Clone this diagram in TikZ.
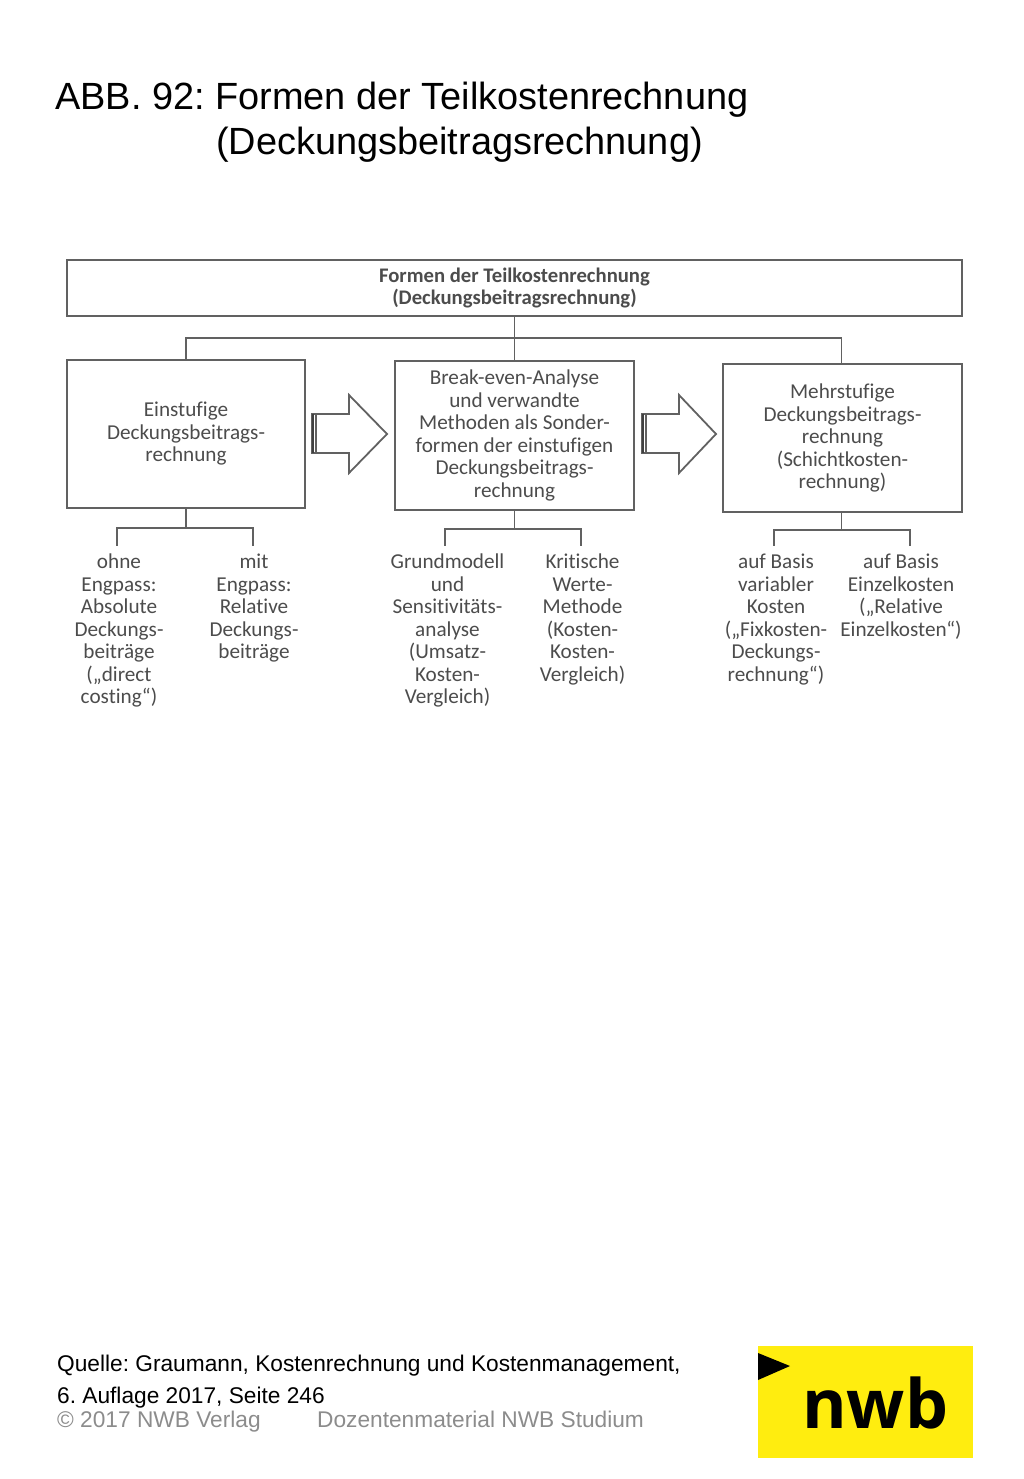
\documentclass[tikz,border=0pt]{standalone}
\usepackage{fontspec}
\setmainfont{Liberation Sans}
\newfontfamily\chartfont[Ligatures=NoCommon]{Carlito}
\newfontfamily\logofont{Open Sans}
\definecolor{linegray}{gray}{0.38}
\definecolor{textgray}{gray}{0.3}
\definecolor{footgray}{gray}{0.55}
\definecolor{nwbyellow}{HTML}{FFED0F}
\tikzset{
  chartbox/.style={draw=linegray,line width=1.8pt,align=center,inner sep=0pt,text=textgray,
    font=\chartfont\fontsize{21.2}{22.5}\selectfont},
  subtext/.style={anchor=north,align=center,inner xsep=0pt,inner ysep=8pt,text=textgray,
    font=\chartfont\fontsize{21.2}{22.5}\selectfont},
  chartline/.style={draw=linegray,line width=1.8pt},
  pagetext/.style={anchor=base west,inner sep=0pt}
}
\frenchspacing
\begin{document}
\begin{tikzpicture}[x=1pt,y=-1pt]
  \useasboundingbox (0,0) rectangle (1024,1479);

  % draw title
  \node[pagetext,font=\fontsize{37.9}{45}\selectfont] (title1) at (55,110) {ABB. 92: Formen der Teilkostenrechnung};
  \node[pagetext,font=\fontsize{37.9}{45}\selectfont] (title2) at (216,155) {(Deckungsbeitragsrechnung)};

  % draw boxes
  \node[chartbox,minimum width=895pt,minimum height=56pt] (top) at (514.5,288)
    {\fontsize{20.7}{22.5}\selectfont\bfseries Formen der Teilkostenrechnung\\\fontsize{20.7}{22.5}\selectfont\bfseries (Deckungsbeitragsrechnung)};
  \node[chartbox,minimum width=238pt,minimum height=148pt] (ein) at (186,434)
    {Einstufige\\Deckungsbeitrags-\\rechnung};
  \node[chartbox,minimum width=239pt,minimum height=149pt] (break) at (514.5,435.5)
    {Break-even-Analyse\\und verwandte\\Methoden als Sonder-\\formen der einstufigen\\Deckungsbeitrags-\\rechnung};
  \node[chartbox,minimum width=239pt,minimum height=148pt] (mehr) at (842.5,438)
    {Mehrstufige\\Deckungsbeitrags-\\rechnung\\(Schichtkosten-\\rechnung)};

  % draw texts below the boxes
  \node[subtext] (ohne) at (119,546) {ohne\\Engpass:\\Absolute\\Deckungs-\\beiträge\\(„direct\\costing“)};
  \node[subtext] (mit) at (254,546) {mit\\Engpass:\\Relative\\Deckungs-\\beiträge};
  \node[subtext] (grund) at (447.5,546) {Grundmodell\\und\\Sensitivitäts-\\analyse\\(Umsatz-\\Kosten-\\Vergleich)};
  \node[subtext] (krit) at (582.5,546) {Kritische\\Werte-\\Methode\\(Kosten-\\Kosten-\\Vergleich)};
  \node[subtext] (variabel) at (776,546) {auf Basis\\variabler\\Kosten\\(„Fixkosten-\\Deckungs-\\rechnung“)};
  \node[subtext] (einzel) at (901,546) {auf Basis\\Einzelkosten\\(„Relative\\Einzelkosten“)};

  % draw connectors
  \draw[chartline] (top) -- (break);
  \draw[chartline] (ein.north) -- ++(0,-21) -| ([xshift=-1pt]mehr.north);
  \draw[chartline] (ein.south) -- ++(0,19) -| ([xshift=-2pt]ohne.north);
  \draw[chartline] (ein.south) -- ++(0,19) -| ([xshift=-1pt]mit.north);
  \draw[chartline] (break.south) -- ++(0,18) -| ([xshift=-2.5pt]grund.north);
  \draw[chartline] (break.south) -- ++(0,18) -| ([xshift=-1.5pt]krit.north);
  \draw[chartline] ([xshift=-1pt]mehr.south) -- ++(0,17) -| ([xshift=-2pt]variabel.north);
  \draw[chartline] ([xshift=-1pt]mehr.south) -- ++(0,17) -| ([xshift=9pt]einzel.north);

  % draw block arrows
  \foreach \x/\t in {312/75,642/74} {
    \draw[chartline,line join=miter] (\x,414) -- (\x+37,414) -- (\x+37,395) -- (\x+\t,434)
      -- (\x+37,473) -- (\x+37,453) -- (\x,453) -- cycle;
    \draw[draw=black!75,line width=2.5pt] (\x+1,414) -- (\x+1,453);
    \draw[draw=linegray,line width=2pt] (\x+4,414) -- (\x+4,453);
  }

  % draw source
  \node[pagetext,font=\fontsize{22.7}{25}\selectfont] (quelle1) at (57,1371) {Quelle: Graumann, Kostenrechnung und Kostenmanagement,};
  \node[pagetext,font=\fontsize{22.7}{25}\selectfont] (quelle2) at (57,1403) {6. Auflage 2017, Seite 246};
  \node[pagetext,text=footgray,font=\fontsize{22.7}{25}\selectfont] (verlag) at (57,1427) {© 2017 NWB Verlag};
  \node[pagetext,text=footgray,font=\fontsize{22.7}{25}\selectfont] (dozent) at (317,1427) {Dozentenmaterial NWB Studium};

  % draw logo
  \fill[nwbyellow] (758,1346) rectangle (973,1458);
  \fill[black] (758,1353) -- (790,1366) -- (758,1380) -- cycle;
  \node[pagetext,font=\logofont\bfseries\fontsize{68}{70}\selectfont] (nwb) at (802,1428) {nwb};
\end{tikzpicture}
\end{document}
